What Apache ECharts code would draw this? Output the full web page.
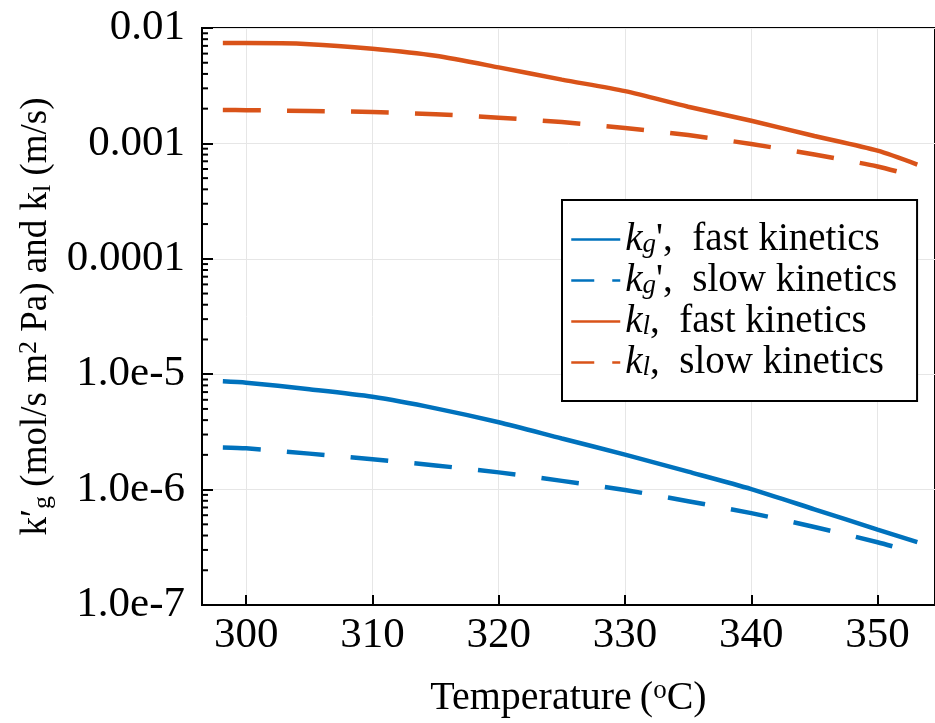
<!DOCTYPE html>
<html>
<head>
<meta charset="utf-8">
<script src="https://cdn.jsdelivr.net/npm/echarts@6/dist/echarts.min.js"></script>
<style>
  html, body { margin: 0; padding: 0; background: #fff; }
  #chart { width: 935px; height: 723px; }
</style>
</head>
<body>
<div id="chart"></div>
<script>
// Mass-transfer coefficients vs temperature (log scale)
const temperature = [298.15, 300, 305, 310, 315, 320, 325, 330, 335, 340, 345, 350, 353.15];
const kgFast = [8.69e-6, 8.45e-6, 7.4e-6, 6.37e-6, 5.06e-6, 3.83e-6, 2.77e-6, 2.01e-6, 1.43e-6, 1.01e-6, 6.75e-7, 4.5e-7, 3.5e-7];
const kgSlow = [2.32e-6, 2.28e-6, 2.05e-6, 1.83e-6, 1.62e-6, 1.41e-6, 1.19e-6, 9.93e-7, 7.93e-7, 6.25e-7, 4.74e-7, 3.5e-7, 2.8e-7];
const klFast = [7.40e-3, 7.40e-3, 7.24e-3, 6.60e-3, 5.74e-3, 4.56e-3, 3.57e-3, 2.84e-3, 2.08e-3, 1.57e-3, 1.16e-3, 8.65e-4, 6.56e-4];
const klSlow = [1.948e-3, 1.94e-3, 1.91e-3, 1.87e-3, 1.79e-3, 1.67e-3, 1.53e-3, 1.36e-3, 1.18e-3, 9.88e-4, 8.0e-4, 6.31e-4, 5.12e-4];

const xTicks = [300, 310, 320, 330, 340, 350];
const yTickLabels = ['1.0e-7', '1.0e-6', '1.0e-5', '0.0001', '0.001', '0.01'];
const seriesNames = ['kg fast', 'kg slow', 'kl fast', 'kl slow'];
const legendLabels = [
  "{i|k}{sub|g}{t|',  fast kinetics}",
  "{i|k}{sub|g}{t|',  slow kinetics}",
  "{i|k}{sub|l}{t|,  fast kinetics}",
  "{i|k}{sub|l}{t|,  slow kinetics}"
];

const X_MIN = 296.5, X_MAX = 354.55;
const Y_MIN = 1e-7, Y_MAX = 1e-2;
const BLUE = '#0072BD', ORANGE = '#D95319';
const FONT = '"Liberation Serif", "DejaVu Serif", serif';

function pairs(ys) { return temperature.map((t, i) => [t, ys[i]]); }

// minor log ticks: 2..9 within every decade
const minorTicks = [];
for (let e = -7; e < -2; e++) {
  for (let k = 2; k <= 9; k++) minorTicks.push([X_MIN, k * Math.pow(10, e)]);
}

const dash = [38, 26];

function lineSeries(name, ys, color, dashed) {
  return {
    type: 'line', name: name, data: pairs(ys),
    symbol: 'none', smooth: 0.25,
    lineStyle: { color: color, width: 4.5, type: dashed ? dash : 'solid', cap: 'butt' },
    itemStyle: { color: color },
    z: 3
  };
}

const chart = echarts.init(document.getElementById('chart'), null, { renderer: 'canvas' });
chart.setOption({
  animation: false,
  backgroundColor: '#fff',
  grid: {
    left: 202, top: 28, right: -6, bottom: 113,
    show: true, borderColor: '#000', borderWidth: 2, backgroundColor: 'transparent'
  },
  xAxis: {
    type: 'value', min: X_MIN, max: X_MAX,
    name: '{t|Temperature\u2009(}{sup|o}{t|C)}',
    nameLocation: 'middle', nameGap: 72,
    nameTextStyle: {
      rich: {
        t: { fontFamily: FONT, fontSize: 40, color: '#000', lineHeight: 42 },
        sup: { fontFamily: FONT, fontSize: 27, color: '#000', lineHeight: 10, verticalAlign: 'top' }
      }
    },
    axisLine: { show: true, onZero: false, lineStyle: { color: '#000', width: 2 } },
    axisTick: { show: true, inside: true, length: 10, lineStyle: { color: '#000', width: 2 }, customValues: xTicks },
    axisLabel: { customValues: xTicks, margin: 9, fontFamily: FONT, fontSize: 43, color: '#000' },
    splitLine: { show: true, lineStyle: { color: '#e6e6e6', width: 1 } }
  },
  yAxis: {
    type: 'log', logBase: 10, min: Y_MIN, max: Y_MAX,
    name: "{t|k\u2032}{sub|g}{t| (mol/s m}{sup|2}{t| Pa) and k}{sub|l}{t| (m/s)}",
    nameLocation: 'middle', nameGap: 146, nameRotate: 90,
    nameTextStyle: {
      rich: {
        t: { fontFamily: FONT, fontSize: 37, color: '#000', lineHeight: 40 },
        sub: { fontFamily: FONT, fontSize: 26, color: '#000', lineHeight: 18, verticalAlign: 'bottom' },
        sup: { fontFamily: FONT, fontSize: 26, color: '#000', lineHeight: 18, verticalAlign: 'top' }
      }
    },
    axisLine: { show: true, lineStyle: { color: '#000', width: 2 } },
    axisTick: { show: true, inside: true, length: 11, lineStyle: { color: '#000', width: 2 } },
    axisLabel: {
      margin: 17, fontFamily: FONT, fontSize: 43, color: '#000',
      formatter: function (v) {
        const idx = Math.round(Math.log10(v)) + 7;
        return yTickLabels[idx] !== undefined ? yTickLabels[idx] : '';
      }
    },
    splitLine: { show: true, lineStyle: { color: '#e6e6e6', width: 1 } }
  },
  legend: {
    orient: 'vertical', left: 562, top: 200,
    backgroundColor: '#fff', borderColor: '#000', borderWidth: 2, borderRadius: 0,
    padding: [20, 20, 19, 8],
    itemWidth: 49, itemHeight: 4, itemGap: 2,
    itemStyle: { opacity: 0, borderWidth: 0 },
    textStyle: {
      width: 276,
      rich: {
        i: { fontFamily: FONT, fontSize: 39, fontStyle: 'italic', color: '#000', lineHeight: 38 },
        sub: { fontFamily: FONT, fontSize: 27, fontStyle: 'italic', color: '#000', lineHeight: 16, verticalAlign: 'bottom' },
        t: { fontFamily: FONT, fontSize: 39, color: '#000', lineHeight: 38 }
      }
    },
    formatter: function (name) { return legendLabels[seriesNames.indexOf(name)]; },
    data: [
      { name: seriesNames[0], lineStyle: { width: 2.5, type: 'solid' } },
      { name: seriesNames[1], lineStyle: { width: 2.5, type: [23, 18] } },
      { name: seriesNames[2], lineStyle: { width: 2.5, type: 'solid' } },
      { name: seriesNames[3], lineStyle: { width: 2.5, type: [23, 18] } }
    ]
  },
  series: [
    lineSeries(seriesNames[0], kgFast, BLUE, false),
    lineSeries(seriesNames[1], kgSlow, BLUE, true),
    lineSeries(seriesNames[2], klFast, ORANGE, false),
    lineSeries(seriesNames[3], klSlow, ORANGE, true),
    {
      type: 'custom', name: 'minor ticks', data: minorTicks, silent: true, clip: false, z: 4,
      renderItem: function (params, api) {
        const p = api.coord([api.value(0), api.value(1)]);
        return {
          type: 'line',
          shape: { x1: p[0], y1: p[1], x2: p[0] + 6, y2: p[1] },
          style: { stroke: '#000', lineWidth: 2 }
        };
      }
    }
  ]
});
</script>
</body>
</html>
